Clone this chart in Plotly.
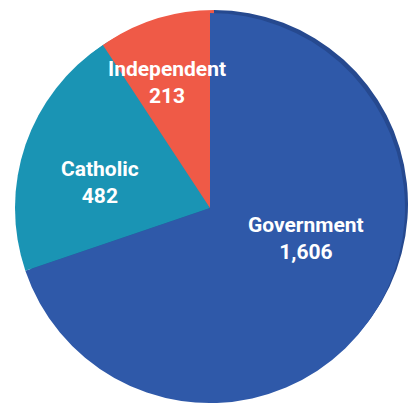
import plotly.graph_objects as go

categories = ["Government", "Catholic", "Independent"]
values = [1606, 482, 213]
value_labels = ["1,606", "482", "213"]
colors = ["#2F59A9", "#1A94B4", "#EF5A47"]
edge_colors = ["#26498F", "#1A94B4", "#EF5A47"]

W, H = 408, 403
FONT = "Roboto, Liberation Sans, Arial, sans-serif"


def dom(cx, cy, r):
    return dict(x=[(cx - r) / W, (cx + r) / W], y=[(H - cy - r) / H, (H - cy + r) / H])


fig = go.Figure()
# darker rim (3D edge effect) behind the main pie
fig.add_trace(go.Pie(
    labels=categories, values=values, sort=False, direction="clockwise", rotation=0,
    marker=dict(colors=edge_colors, line=dict(width=0)),
    textinfo="none", hoverinfo="skip", showlegend=False,
    domain=dom(214, 204, 194),
))
fig.add_trace(go.Pie(
    labels=categories, values=values, sort=False, direction="clockwise", rotation=0,
    marker=dict(colors=colors, line=dict(width=0)),
    textinfo="none", hoverinfo="skip", showlegend=False,
    domain=dom(210, 208, 195),
))

label_pos = {"Government": (306, 238), "Catholic": (100, 183), "Independent": (167, 82)}
for cat, lab in zip(categories, value_labels):
    px, py = label_pos[cat]
    fig.add_annotation(
        x=px / W, y=1 - py / H, xref="paper", yref="paper",
        text=f"{cat}<br>{lab}", showarrow=False,
        font=dict(family=FONT, size=21, color="white", weight="bold"),
        align="center", xanchor="center", yanchor="middle",
    )

fig.update_layout(
    width=W, height=H,
    margin=dict(l=0, r=0, t=0, b=0),
    paper_bgcolor="white",
    plot_bgcolor="white",
)
fig.write_html("out.html", config={"displayModeBar": False},
               post_script="document.body.style.margin='0';")
